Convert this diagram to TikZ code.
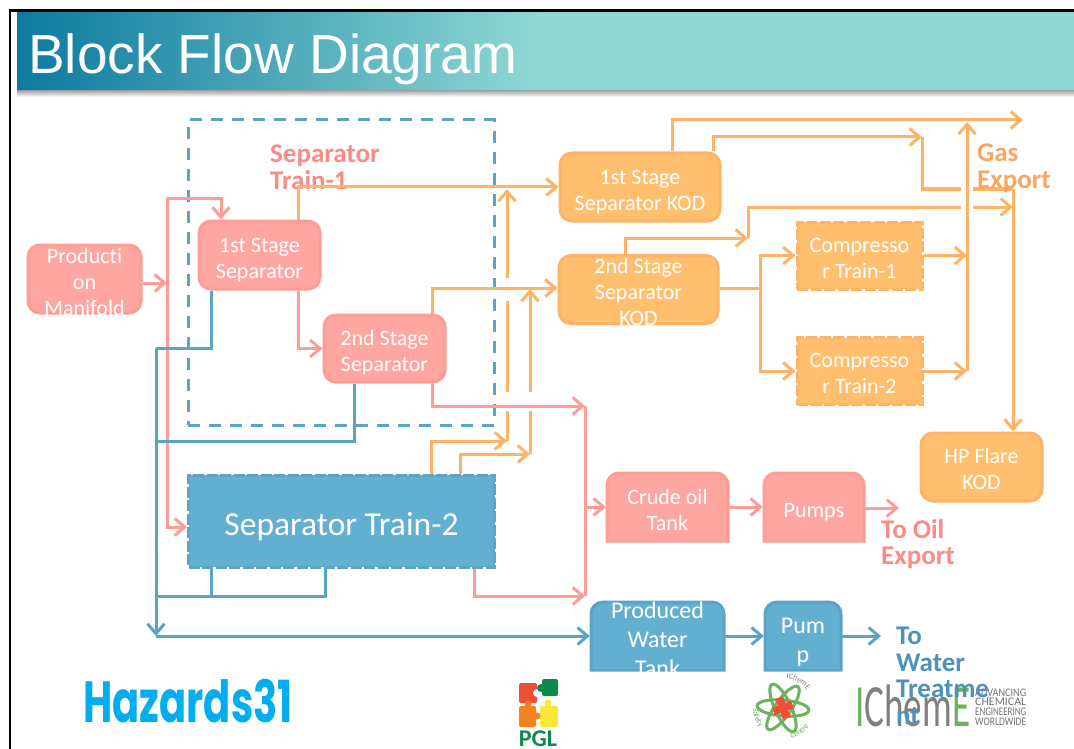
\documentclass[tikz,border=0pt]{standalone}
\usepackage{fontspec}
\setmainfont{Carlito}[Ligatures=NoCommon]
\newfontfamily\titlefont{Liberation Sans}
\newfontfamily\hazfont{Poppins}
\usepackage{tikz}
\usetikzlibrary{positioning}
\usetikzlibrary{arrows.meta}
\usetikzlibrary{decorations.text}
\definecolor{pinkfill}{HTML}{FFA6A1}
\definecolor{pinkedge}{HTML}{FF9C96}
\definecolor{pinktext}{HTML}{FC8B86}
\definecolor{orangefill}{HTML}{FFBF6E}
\definecolor{orangeedge}{HTML}{FFB366}
\definecolor{orangetext}{HTML}{F9A75E}
\definecolor{bluefill}{HTML}{63AFCF}
\definecolor{blueedge}{HTML}{5AA5C6}
\definecolor{bluetext}{HTML}{4D92B7}
\definecolor{bandleft}{HTML}{0C7A9F}
\definecolor{bandright}{HTML}{8FD8D4}
\definecolor{logogreen}{HTML}{6DB35F}
\definecolor{pglred}{HTML}{F04E37}
\definecolor{pglgreen}{HTML}{0B8A4C}
\definecolor{pglorange}{HTML}{F58220}
\definecolor{pglyellow}{HTML}{F7E83A}
\newcommand{\logoline}[1]{\resizebox{51pt}{7.5pt}{#1}}
\newcommand{\dropline}[1]{\rule{0pt}{#1}}
\tikzset{
  >={Straight Barb[length=10pt,width=17pt]},
  pinkline/.style={draw=pinkedge,line width=3pt},
  orangeline/.style={draw=orangeedge,line width=3pt},
  blueline/.style={draw=blueedge,line width=3pt},
  boxtext/.style={text=white,align=center,inner sep=0pt,font=\fontsize{22}{26}\selectfont},
  bigtext/.style={text=white,align=center,inner sep=0pt,font=\fontsize{24}{29}\selectfont},
  roundbox/.style={boxtext,line width=3pt,rounded corners=12pt},
  pinkbox/.style={roundbox,draw=pinkedge,fill=pinkfill},
  orangebox/.style={roundbox,draw=orangeedge,fill=orangefill},
  orangedash/.style={boxtext,draw=orangeedge,fill=orangefill,line width=3pt,dash pattern=on 11pt off 2.5pt},
  label text/.style={align=left,anchor=north west,inner sep=0pt,font=\fontsize{27}{26.5}\selectfont\bfseries},
}
\begin{document}
\begin{tikzpicture}[x=1pt,y=-1pt]
\useasboundingbox (0,0) rectangle (1074,749);
% Slide frame and title band
\fill[white] (0,0) rectangle (1074,749);
\shade[top color=gray!75,bottom color=white] (17,90) rectangle (1074,97);
\shade[left color=bandleft,right color=bandright] (17,12) rectangle (540,90);
\fill[bandright] (539.5,12) rectangle (1074,90);
\draw[line width=2.8pt,black] (10,749) -- (10,10.5) -- (1074,10.5);
\node[text=white,font=\titlefont\fontsize{55}{55}\selectfont,anchor=base west,inner sep=0pt] (slidetitle) at (28,74) {Block Flow Diagram};
% Dashed outline of train 1
\node[draw=blueedge,line width=3pt,dash pattern=on 12pt off 9pt,minimum width=306pt,minimum height=305pt,inner sep=0pt] (trainone) at (341,272.5) {};
\node[label text,text=pinktext] (trainonelabel) at (270,145) {Separator\\Train-1};
% Boxes, train 1 and gas side
\node[pinkbox,minimum width=113pt,minimum height=68pt] (prodbox) at (84.5,279) {};
\node[boxtext] (prodman) at (84.5,282) {Product\kern0pt i\\on\\Manifold};
\node[pinkbox,minimum width=121pt,minimum height=68pt] (sepone) at (259.5,255) {\dropline{25pt}1st Stage\\Separator};
\node[pinkbox,minimum width=121pt,minimum height=67pt] (septwo) at (384.5,348.5) {\dropline{23pt}2nd Stage\\Separator};
\node[orangebox,minimum width=160pt,minimum height=68pt] (kodone) at (640,187) {\dropline{25pt}1st Stage\\Separator KOD};
\node[orangebox,minimum width=159pt,minimum height=68pt] (kodbox) at (638.5,289.5) {};
\node[boxtext] (kodtwo) at (638.5,292) {2nd Stage\\Separator\\KOD};
\node[orangedash,minimum width=125pt,minimum height=67pt] (compone) at (859.5,255.5) {\dropline{20pt}Compresso\\r Train-1};
\node[orangedash,minimum width=125pt,minimum height=67pt] (comptwo) at (859.5,371) {\dropline{20pt}Compresso\\r Train-2};
\node[orangebox,minimum width=121pt,minimum height=68pt] (flarekod) at (981.5,467) {\dropline{20pt}HP Flare\\KOD};
\node[draw=blueedge,fill=bluefill,line width=3pt,dash pattern=on 11pt off 2.5pt,text=white,font=\fontsize{33.5}{34}\selectfont,minimum width=306pt,minimum height=92pt,inner sep=0pt] (traintwo) at (341.5,521) {\dropline{35pt}Separator Train-2};
% Boxes with a round top only
\draw[draw=pinkedge,fill=pinkfill,line width=3pt] (607,541) -- (607,485) arc (180:270:12) -- (716,473) arc (270:360:12) -- (728,541) -- cycle;
\draw[draw=pinkedge,fill=pinkfill,line width=3pt] (764,541) -- (764,485) arc (180:270:12) -- (852,473) arc (270:360:12) -- (864,541) -- cycle;
\draw[draw=blueedge,fill=bluefill,line width=3pt] (591,670) -- (591,614) arc (180:270:12) -- (712,602) arc (270:360:12) -- (724,670) -- cycle;
\draw[draw=blueedge,fill=bluefill,line width=3pt] (765,670) -- (765,614) arc (180:270:12) -- (829,602) arc (270:360:12) -- (841,670) -- cycle;
\node[boxtext,minimum width=123pt,minimum height=70pt] (crudetank) at (667.5,507) {\dropline{22pt}Crude oil\\Tank};
\node[boxtext,minimum width=102pt,minimum height=70pt] (oilpumps) at (814,507) {\dropline{24pt}Pumps};
\node[bigtext,minimum width=135pt,minimum height=70pt] (tankbox) at (657.5,636) {};
\node[bigtext] (watertank) at (657.5,639.5) {Produced\\Water\\Tank};
\node[bigtext,minimum width=78pt,minimum height=70pt] (waterpump) at (803,636) {\dropline{28pt}Pum\\p};
% Oil lines
\coordinate (feedtee) at (167,283);
\coordinate (feedtop) at (167,198);
\coordinate (oiltop) at (585,406);
\coordinate (oilbot) at (585,596);
\coordinate (oilend) at (899,508);
\draw[pinkline,->] ([yshift=-4pt]prodbox.east) -- (feedtee);
\draw[pinkline,->] (feedtop) -| ([xshift=-38.5pt]sepone.north);
\draw[pinkline,->] (feedtop) |- ([yshift=-6pt]traintwo.west);
\draw[pinkline,->] ([xshift=38.5pt]sepone.south) |- (septwo.west);
\draw[pinkline,->] ([xshift=47.5pt]septwo.south) |- (oiltop);
\draw[pinkline] (oiltop) -- (oilbot);
\draw[pinkline,->] ([xshift=132.5pt]traintwo.south) |- (oilbot);
\draw[pinkline,->] (oiltop |- crudetank.west) -- (crudetank.west);
\draw[pinkline,->] (crudetank.east) -- (oilpumps.west);
\draw[pinkline,->] (oilpumps.east |- oilend) -- (oilend);
% Water lines
\coordinate (drainA) at (156,348);
\coordinate (drainB) at (156,441);
\coordinate (drainC) at (156,596);
\coordinate (drainD) at (156,636);
\coordinate (waterend) at (881,636);
\draw[blueline] ([xshift=-48.5pt]sepone.south) |- (drainA);
\draw[blueline] ([xshift=-30.5pt]septwo.south) |- (drainB);
\draw[blueline] ([xshift=-16.5pt]traintwo.south) |- (drainC);
\draw[blueline] ([xshift=-130.5pt]traintwo.south) |- (drainC);
\draw[blueline,->] (drainA) -- (drainD);
\draw[blueline,->] (drainD) -- (tankbox.west);
\draw[blueline,->] (tankbox.east) -- (waterpump.west);
\draw[blueline,->] (waterpump.east) -- (waterend);
% Gas lines
\coordinate (riserA) at (507,441);
\coordinate (riserB) at (530,454);
\coordinate (riserC) at (507,392);
\coordinate (riserD) at (530,392);
\coordinate (riserE) at (507,411);
\coordinate (riserF) at (530,411);
\coordinate (riserG) at (507,301);
\coordinate (riserH) at (507,278);
\coordinate (riserI) at (507,189);
\coordinate (riserJ) at (530,289);
\coordinate (gasend) at (1023,120);
\coordinate (gastop) at (967,122);
\coordinate (gasone) at (967,255.5);
\coordinate (gastwo) at (967,371);
\coordinate (flareA) at (922,137);
\coordinate (flareB) at (961,189);
\coordinate (flareC) at (973,189);
\coordinate (flareD) at (1013,189);
\coordinate (flareE) at (748,238);
\coordinate (flareF) at (961,207);
\coordinate (flareG) at (973,207);
\coordinate (flareH) at (1013,207);
\coordinate (compjoin) at (760,288);
\draw[orangeline,->] ([xshift=38.5pt]sepone.north) |- (kodone.west);
\draw[orangeline,->] ([xshift=47.5pt]septwo.north) |- ([yshift=1.5pt]kodbox.west);
\draw[orangeline,->] ([xshift=89.5pt]traintwo.north) |- (riserA);
\draw[orangeline,->] ([xshift=118.5pt]traintwo.north) |- (riserB);
\draw[orangeline] (riserA) -- (riserE);
\draw[orangeline] (riserB) -- (riserF);
\draw[orangeline] (riserC) -- (riserG);
\draw[orangeline,->] (riserH) -- (riserI);
\draw[orangeline,->] (riserD) -- (riserJ);
\draw[orangeline,->] ([xshift=32pt]kodone.north) |- (gasend);
\draw[orangeline,->] ([xshift=73pt]kodone.north) |- (flareA);
\draw[orangeline] (flareA) |- (flareB);
\draw[orangeline] (flareC) -- (flareD);
\draw[orangeline,->] ([xshift=-13.5pt]kodbox.north) |- (flareE);
\draw[orangeline] (flareE) |- (flareF);
\draw[orangeline,->] (flareG) -- (flareH);
\draw[orangeline,->] (flareD) -| ([xshift=31.5pt]flarekod.north);
\draw[orangeline] ([yshift=1.5pt]kodbox.east) -- (compjoin);
\draw[orangeline,->] (compjoin) |- (compone.west);
\draw[orangeline,->] (compjoin) |- (comptwo.west);
\draw[orangeline,->] (compone.east) -- (gasone);
\draw[orangeline,->] (comptwo.east) -- (gastwo);
\draw[orangeline,->] (gastwo) -- (gastop);
\node[label text,text=orangetext] (gaslabel) at (977,144) {Gas\\Export};
\node[label text,text=pinktext] (oillabel) at (881,519) {To Oil\\Export};
% Logos
\node[font=\hazfont\bfseries\fontsize{58}{58}\selectfont] (hazards) at (188,701) {\textcolor[HTML]{00AEEF}{\scalebox{0.69}[1]{Hazards31}}};
\fill[pglred,rounded corners=2pt] (519,683) rectangle (537,703);
\fill[white] (537,693) circle (4);
\fill[pglgreen,rounded corners=2pt] (542,679) rectangle (558,696);
\fill[pglgreen] (541,688) circle (4);
\fill[pglorange,rounded corners=2pt] (519,706) rectangle (536,727);
\fill[pglorange] (528,704) circle (3.5);
\fill[pglyellow,rounded corners=2pt] (540,706) rectangle (558,727);
\fill[pglyellow] (548,703) circle (3.5);
\fill[pglorange] (537,716) circle (3.5);
\node[text=pglgreen,font=\fontsize{24}{24}\selectfont\bfseries] (pgl) at (538,739) {PGL};
\draw[logogreen,line width=3pt] (783,708) ellipse [x radius=26,y radius=8,rotate=-5];
\draw[logogreen,line width=3pt] (783,708) ellipse [x radius=26,y radius=8,rotate=55];
\draw[logogreen,line width=3pt] (783,708) ellipse [x radius=26,y radius=8,rotate=115];
\fill[pglred,rotate around={20:(783,708)}] (773,704) rectangle (793,712);
\fill[pglred,rotate around={20:(783,708)}] (779,697) rectangle (787,719);
\path[decorate,decoration={text along path,text={|\fontsize{8}{8}\selectfont|IChemE},text color=gray,text align=center}] (783,708) ++(-100:30) arc (-100:-20:30);
\path[decorate,decoration={text along path,text={|\fontsize{8}{8}\selectfont|Safety},text color=logogreen,text align=center}] (783,708) ++(-165:30) arc (-165:-235:30);
\path[decorate,decoration={text along path,text={|\fontsize{8}{8}\selectfont|Centre},text color=logogreen,text align=center}] (783,708) ++(87:32) arc (87:24:32);
\node[anchor=west,inner sep=0pt,font=\fontsize{60}{60}\selectfont] (icheme) at (855,706) {\scalebox{0.62}[1]{\textcolor{logogreen}{I}\textcolor{gray}{Chem}\textcolor{logogreen}{E}}};
\node[anchor=west,inner sep=0pt,align=left,text=gray!90!black,font=\fontsize{9}{9.8}\selectfont] (ichemeline) at (975,707) {\logoline{ADVANCING}\\\logoline{CHEMICAL}\\\logoline{ENGINEERING}\\\logoline{WORLDWIDE}};
\node[label text,text=bluetext] (waterlabel) at (896,627) {To\\Water\\Treatme\\nt};
\end{tikzpicture}
\end{document}
